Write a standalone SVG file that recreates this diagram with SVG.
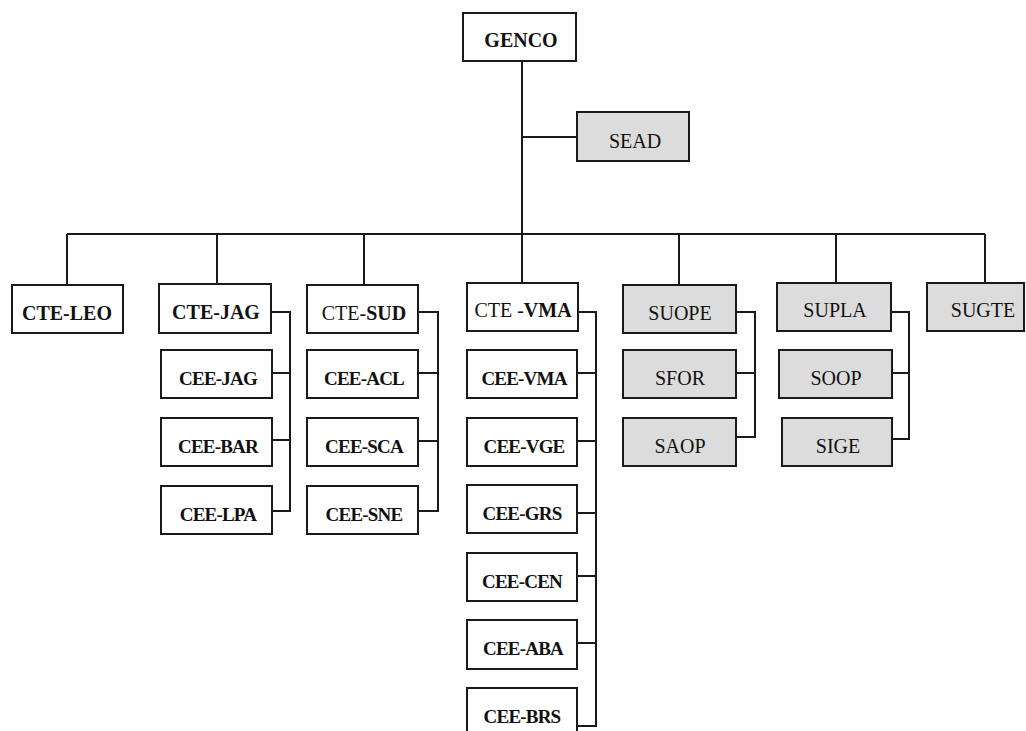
<svg xmlns="http://www.w3.org/2000/svg" width="1026" height="731" viewBox="0 0 1026 731" font-family="Liberation Serif, Times New Roman, Times, serif">
  <style>
    .box { fill: #ffffff; stroke: #1a1a1a; stroke-width: 2; }
    .unit .box { fill: #dcdcdc; }
    text { font-family: 'Liberation Serif', 'Times New Roman', Times, serif; font-size: 20px; fill: #111; text-anchor: middle; }
    .b { font-weight: bold; }
    .cee { font-weight: bold; font-size: 19px; letter-spacing: -0.8px; }
    .wire { fill: none; stroke: #1a1a1a; stroke-width: 2; }
  </style>

  <!-- connectors -->
  <g id="connectors" class="wire">
    <path d="M522 61 V234"/>
    <path d="M522 137 H577"/>
    <path d="M67 234 H985"/>
    <path d="M67 234 V285 M217 234 V284 M364 234 V285 M522 234 V283 M679 234 V285 M836 234 V283 M985 234 V283"/>
    <!-- CTE-JAG group -->
    <path d="M271 312 H290 V511 H272 M272 373 H290 M272 440 H290"/>
    <!-- CTE-SUD group -->
    <path d="M418 312 H438 V511 H418 M418 373 H438 M418 441 H438"/>
    <!-- CTE-VMA group -->
    <path d="M578 312 H596 V726 H577 M577 373 H596 M577 441 H596 M577 513 H596 M577 576 H596 M577 643 H596"/>
    <!-- SUOPE group -->
    <path d="M736 312 H755 V437 H736 M736 373 H755"/>
    <!-- SUPLA group -->
    <path d="M891 312 H909 V439 H892 M892 373 H909"/>
  </g>

  <g id="GENCO"><rect class="box" x="463" y="13" width="113" height="48"/><text class="b" x="521" y="47">GENCO</text></g>
  <g id="SEAD" class="unit"><rect class="box" x="577" y="112" width="112" height="49"/><text x="635" y="148">SEAD</text></g>

  <g id="CTE-LEO"><rect class="box" x="12" y="285" width="111" height="48"/><text class="b" x="67" y="320">CTE-LEO</text></g>

  <g id="CTE-JAG"><rect class="box" x="159" y="284" width="112" height="49"/><text class="b" x="216" y="319">CTE-JAG</text></g>
  <g id="CEE-JAG"><rect class="box" x="161" y="350" width="111" height="48"/><text class="cee" x="218" y="385">CEE-JAG</text></g>
  <g id="CEE-BAR"><rect class="box" x="161" y="418" width="111" height="48"/><text class="cee" x="218" y="453">CEE-BAR</text></g>
  <g id="CEE-LPA"><rect class="box" x="161" y="486" width="111" height="48"/><text class="cee" x="218" y="521">CEE-LPA</text></g>

  <g id="CTE-SUD"><rect class="box" x="307" y="285" width="111" height="48"/><text x="364" y="320">CTE-<tspan class="b">SUD</tspan></text></g>
  <g id="CEE-ACL"><rect class="box" x="307" y="350" width="111" height="48"/><text class="cee" x="364" y="385">CEE-ACL</text></g>
  <g id="CEE-SCA"><rect class="box" x="307" y="418" width="111" height="48"/><text class="cee" x="364" y="453">CEE-SCA</text></g>
  <g id="CEE-SNE"><rect class="box" x="307" y="486" width="111" height="48"/><text class="cee" x="364" y="521">CEE-SNE</text></g>

  <g id="CTE-VMA"><rect class="box" x="467" y="283" width="111" height="48"/><text x="523" y="317">CTE -<tspan class="b">VMA</tspan></text></g>
  <g id="CEE-VMA"><rect class="box" x="467" y="350" width="110" height="48"/><text class="cee" x="524" y="385">CEE-VMA</text></g>
  <g id="CEE-VGE"><rect class="box" x="467" y="418" width="110" height="48"/><text class="cee" x="524" y="453">CEE-VGE</text></g>
  <g id="CEE-GRS"><rect class="box" x="467" y="485" width="110" height="48"/><text class="cee" x="522" y="520">CEE-GRS</text></g>
  <g id="CEE-CEN"><rect class="box" x="467" y="553" width="110" height="48"/><text class="cee" x="522" y="588">CEE-CEN</text></g>
  <g id="CEE-ABA"><rect class="box" x="467" y="620" width="110" height="49"/><text class="cee" x="523" y="655">CEE-ABA</text></g>
  <g id="CEE-BRS"><rect class="box" x="467" y="688" width="110" height="48"/><text class="cee" x="522" y="723">CEE-BRS</text></g>

  <g id="SUOPE" class="unit"><rect class="box" x="623" y="285" width="113" height="48"/><text x="680" y="320">SUOPE</text></g>
  <g id="SFOR" class="unit"><rect class="box" x="623" y="350" width="113" height="48"/><text x="680" y="385">SFOR</text></g>
  <g id="SAOP" class="unit"><rect class="box" x="623" y="418" width="113" height="48"/><text x="680" y="453">SAOP</text></g>

  <g id="SUPLA" class="unit"><rect class="box" x="777" y="283" width="114" height="48"/><text x="835" y="317">SUPLA</text></g>
  <g id="SOOP" class="unit"><rect class="box" x="779" y="350" width="113" height="48"/><text x="836" y="385">SOOP</text></g>
  <g id="SIGE" class="unit"><rect class="box" x="782" y="418" width="110" height="48"/><text x="838" y="453">SIGE</text></g>

  <g id="SUGTE" class="unit"><rect class="box" x="927" y="283" width="97" height="48"/><text x="983" y="317">SUGTE</text></g>
</svg>
